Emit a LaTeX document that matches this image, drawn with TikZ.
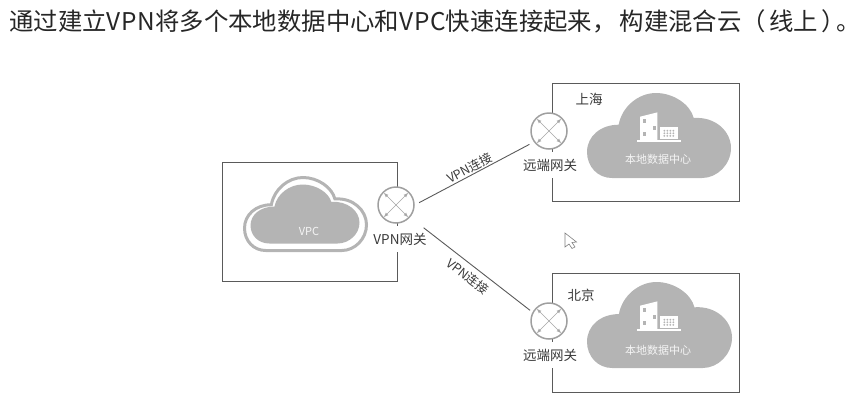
\documentclass[tikz,border=0pt]{standalone}
\usepackage{fontspec}
\setmainfont{Noto Sans CJK SC}
\usetikzlibrary{calc}
\definecolor{cloudgray}{HTML}{B4B4B4}
\definecolor{linegray}{HTML}{5A5A5A}
\definecolor{textgray}{HTML}{3A3A3A}
\tikzset{
	sitebox/.style={draw=linegray,line width=1pt,anchor=north west,inner sep=0pt},
	gateway/.style={circle,draw=gray!75,line width=1.5pt,fill=white,inner sep=0pt,minimum size=36pt},
	gatewaylabel/.style={fill=white,inner sep=0pt,text=textgray,font=\fontsize{13.5}{13.5}\selectfont,minimum height=26pt},
	sitelabel/.style={inner sep=0pt,text=textgray,font=\fontsize{13.5}{13.5}\selectfont},
	cloudlabel/.style={inner sep=0pt,text=white!92!gray,font=\fontsize{11}{11}\selectfont},
	link/.style={draw=linegray,line width=0.9pt},
	linklabel/.style={inner sep=0.5pt,text=textgray,font=\fontsize{12.5}{12.5}\selectfont,sloped},
	crossarrow/.style={<->,>=latex,draw=gray!70,line width=0.6pt,shorten <=1.5pt,shorten >=1.5pt}
}
\begin{document}
\begin{tikzpicture}[x=1pt,y=-1pt]
	\useasboundingbox (0,0) rectangle (864,405);

	\newcommand\cloudPath[4]{[shift={(#1,#2)},x=#3pt,y=-#4pt]
		(.174,1) .. controls (.074,1) and (0,.867) .. (0,.694)
		.. controls (0,.51) and (.093,.373) .. (.22,.373)
		.. controls (.243,.157) and (.359,0) .. (.479,0)
		.. controls (.602,0) and (.718,.137) .. (.741,.294)
		.. controls (.891,.275) and (1,.451) .. (1,.647)
		.. controls (1,.843) and (.903,1) .. (.799,1) -- cycle}
	\newcommand\drawBuilding[2]{
		\begin{scope}[shift={(#1,#2)}]
			\fill[white] (0,-1.7) rectangle (43.3,0);
			\fill[white] (2.7,-1.7) -- (2.7,-25) -- (20,-29.3) -- (20,-1.7) -- cycle;
			\fill[white] (22.7,-2.7) rectangle (41,-15);
			\fill[cloudgray] (5.5,-22.5) rectangle +(3,4);
			\fill[cloudgray] (5.5,-9.5) rectangle +(3,4);
			\fill[cloudgray] (15.2,-15.5) rectangle +(3,4);
			\foreach \x in {26,...,29}
			{
				\foreach \y in {0,1,2}
				{
					\fill[cloudgray] (\x*3-51,-11+\y*2.6) circle (1pt);
				}
			}
		\end{scope}
	}
	\newcommand\drawCross[1]{
		\draw[crossarrow] (#1.45) -- (#1.225);
		\draw[crossarrow] (#1.135) -- (#1.315);
	}

	\node[sitebox,minimum width=175pt,minimum height=119pt] (vpcbox) at (222,162) {};
	\node[sitebox,minimum width=187pt,minimum height=118pt] (shanghaibox) at (552,83) {};
	\node[sitebox,minimum width=187pt,minimum height=119pt] (beijingbox) at (552,273) {};

	% clouds
	\draw[draw=cloudgray,line width=3pt,fill=white] \cloudPath{244.5}{177.5}{122}{73};
	\fill[cloudgray] \cloudPath{250.5}{184.5}{109}{59};
	\fill[cloudgray] \cloudPath{587}{93}{144}{85};
	\fill[cloudgray] \cloudPath{587}{282}{145}{86};
	\drawBuilding{637.3}{141.7}
	\drawBuilding{637.3}{330.7}

	\node[cloudlabel] (vpctext) at (309,231) {VPC};
	\node[cloudlabel] (shanghaitext) at (658,159) {本地数据中心};
	\node[cloudlabel] (beijingtext) at (658,350) {本地数据中心};
	\node[sitelabel] (shanghailabel) at (589,99) {上海};
	\node[sitelabel] (beijinglabel) at (581,295) {北京};

	% gateways
	\node[gatewaylabel] (vpnlabel) at (400,239) {VPN网关};
	\node[gatewaylabel] (shanghailabelgw) at (550,165) {远端网关};
	\node[gatewaylabel] (beijinglabelgw) at (550,355) {远端网关};
	\node[gateway] (vpngw) at (396,205) {};
	\node[gateway] (shanghaigw) at (549,131) {};
	\node[gateway] (beijinggw) at (549,321) {};
	\drawCross{vpngw}
	\drawCross{shanghaigw}
	\drawCross{beijinggw}

	% connectors
	\draw[link,shorten <=5pt,shorten >=5pt] (vpngw.east) -- node[linklabel,above,pos=.49] {VPN连接} (shanghaigw.216);
	\draw[link,shorten <=17pt,shorten >=3pt] (vpngw.-41) -- node[linklabel,below,pos=.53,inner sep=5pt] {VPN连接} (beijinggw.152);

	% title
	\node[anchor=west,inner sep=0pt,text=black!85,font=\fontsize{24.4}{24.4}\selectfont] (title) at (9,21) {通过建立{\addfontfeature{LetterSpace=3}VPN}将多个本地数据中心和{\addfontfeature{LetterSpace=3}VPC}快速连接起来，\kern3pt 构建混合云（\kern3pt 线上\kern4pt ）\kern-10pt 。};

	% pointer
	\draw[draw=gray,fill=white,line width=0.6pt] (565,233) -- (565,247) -- (569,244) -- (572,248.5) -- (575,247) -- (572,242.5) -- (576.5,242) -- cycle;
\end{tikzpicture}
\end{document}
